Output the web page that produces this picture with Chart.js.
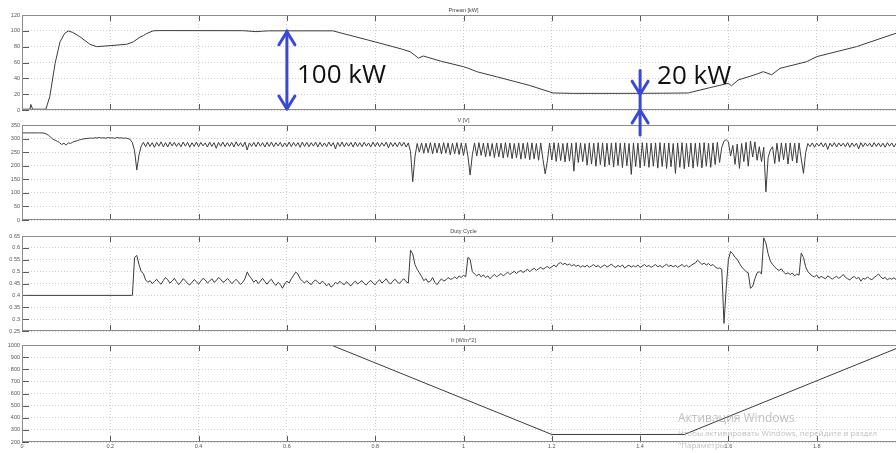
<!DOCTYPE html>
<html><head><meta charset="utf-8">
<script src="https://cdn.jsdelivr.net/npm/chart.js@4.4.1/dist/chart.umd.min.js"></script>
<style>
html,body{margin:0;padding:0;background:#fff;overflow:hidden;width:896px;height:453px;position:relative}
canvas{position:absolute;left:0;top:0}
#c1{z-index:5}
.wm{position:absolute;left:678px;color:rgba(150,150,150,0.6);font-family:'Open Sans',sans-serif;white-space:nowrap;z-index:9;line-height:1}
</style></head><body>
<canvas id="c4" width="912" height="453"></canvas>
<canvas id="c3" width="912" height="453"></canvas>
<canvas id="c2" width="912" height="453"></canvas>
<canvas id="c1" width="912" height="453"></canvas>
<div class="wm" style="top:412px;font-size:12px">Активация Windows</div>
<div class="wm" style="top:429px;font-size:8px">Чтобы активировать Windows, перейдите в раздел</div>
<div class="wm" style="top:441px;font-size:8px">"Параметры".</div>
<script>
// ---- Data ----
const xTicks = [0,0.2,0.4,0.6,0.8,1,1.2,1.4,1.6,1.8,2];
const titles = ['Pmean [kW]','V [V]','Duty Cycle','Ir [W/m^2]'];

const pTime = [0,0.018,0.02,0.024,0.054,0.063,0.075,0.086,0.097,0.105,0.115,0.131,0.154,0.169,0.2,0.237,0.252,0.267,0.275,0.282,0.297,0.31,0.5,0.53,0.545,0.56,0.704,0.8,0.86,0.879,0.89,0.898,0.909,0.95,1.0,1.012,1.03,1.075,1.15,1.203,1.25,1.35,1.45,1.509,1.56,1.6,1.607,1.622,1.66,1.679,1.698,1.717,1.777,1.8,1.89,1.98,2.0];
const pValue = [1,1,7,1,1,17,59,86,97,99.8,98,92.6,83,80,81.3,83,86,92,94,96.5,100,100.3,100.2,99,99.5,100,100,86,77,73.6,69,65.5,68.2,61.5,54.7,52.5,48.4,42,31,21.5,21,21,21.2,21.5,28.5,33.7,30.5,37.9,44.5,48.4,44.5,52.6,61,67.4,80,97,100];

const vDt = 0.005;
const vStartup = [321,321,321,321,321,321,321,321,321,321,
 320,317,312,305,298,294,290,285,278,283,276,284,282,287,290,292,295,297,299,300,301,302,301,303,302,304,302,303,301,304,302,303,301,304,302,303,301,302,300,297,285,255,184,240];
const vBand1 = [272,286,270,287,271,285,268,286,272,288,
 270,285,269,287,273,286,271,284,270,287,
 272,286,268,285,271,287,270,286,273,284,
 269,287,271,285,264,286,272,287,270,285,
 271,286,269,288,272,285,270,287,258,284,
 271,286,270,287,272,285,269,286,271,287,
 270,285,273,286,269,284,271,287,270,286,
 272,285,268,287,271,286,270,285,272,287,
 269,286,271,284,270,287,272,285,262,286,
 271,287,270,285,272,286,269,287,271,285,
 270,286,272,284,269,287,271,286,270,285,
 272,287,266,286,271,285,270,287,272,286,
 269,284];
const vBand2 = [252,141,232,282,250,284,246,283,248,285,
 244,284,247,283,243,285,246,284,240,283,
 244,285,241,284,238,283,235,166,240,284,
 236,285,238,283,232,284,235,282,230,284,
 233,283,228,285,231,284,226,282,229,284,
 224,283,227,285,222,284,225,282,220,284,
 223,170,218,283,221,285,216,284,219,282,
 214,284,217,283,180,285,212,284,215,282,
 202,284,206,283,198,285,204,284,196,283,
 203,284,195,285,201,283,193,284,200,282,
 168,284,197,283,192,285,199,284,194,283,
 198,284,191,285,197,283,190,284,196,282,
 172,284,194,285,189,283,196,284,191,283,
 197,284,192,285,198,283,194,284,204,286,
 212];
const vDisturb = [268,290,296,288,236,275,205,280,190,282,
 215,286,198,291,232,288,220,270,215,268,
 104,230,258,270,208,283,215,284,222,283,
 206,284,218,283,210,284,225,172,248,282];
const vBand3 = [270,284,268,283,272,285,269,284,260,283,271,285,269,284,272,283,270,285,268,284,271,283,262,285,270,284,272,283,269,285,271,284,270,283,268,285,272,284,269,283,271,285,270,284];

const dDt = 0.005;
const dFlatTime = [0,0.248];
const dFlat = [0.4,0.4];
const dSeg1 = [0.40,0.56,0.568,0.53,0.50,0.492,0.465,0.455,0.462,0.45,
 0.458,0.468,0.455,0.447,0.462,0.475,0.466,0.452,0.46,0.472,
 0.458,0.445,0.456,0.47,0.462,0.45,0.444,0.455,0.466,0.458,
 0.447,0.46,0.472,0.465,0.452,0.46,0.47,0.455,0.462,0.475,
 0.468,0.455,0.46,0.471,0.462,0.45,0.458,0.468,0.457,0.446,
 0.455,0.47,0.498,0.482,0.47,0.455,0.465,0.45,0.46,0.472,
 0.458,0.447,0.46,0.468,0.452,0.442,0.455,0.446,0.43,0.448,
 0.46,0.452,0.47,0.484,0.498,0.49,0.47,0.46,0.452,0.462,
 0.452,0.445,0.458,0.465,0.455,0.448,0.46,0.452,0.44,0.45,
 0.435,0.442,0.455,0.448,0.46,0.45,0.445,0.458,0.447,0.44,
 0.452,0.46,0.448,0.455,0.462,0.45,0.444,0.456,0.463,0.452,
 0.445,0.458,0.466,0.452,0.46,0.47,0.455,0.448,0.46,0.468,
 0.456,0.45,0.462,0.47,0.458,0.452];
const dSeg2 = [0.59,0.575,0.53,0.51,0.495,0.48,0.462,0.47,0.455,0.46,
 0.475,0.455,0.445,0.458,0.47,0.46,0.465,0.475,0.468,0.47,
 0.478,0.47,0.482,0.475,0.485,0.478,0.56,0.552,0.5,0.49,
 0.482,0.49,0.478,0.486,0.475,0.482,0.47,0.48,0.488,0.478,
 0.485,0.492,0.482,0.49,0.498,0.488,0.495,0.502,0.492,0.5,
 0.505,0.496,0.503,0.51,0.5,0.508,0.514,0.505,0.512,0.518,
 0.51,0.516,0.522,0.514,0.52,0.528,0.52,0.534,0.538,0.53,
 0.535,0.528,0.532,0.524,0.53,0.522,0.528,0.518,0.525,0.52,
 0.527,0.518,0.524,0.53,0.52,0.526,0.516,0.523,0.528,0.519,
 0.525,0.532,0.522,0.518,0.526,0.52,0.528,0.515,0.522,0.527,
 0.519,0.525,0.52,0.528,0.517,0.524,0.53,0.521,0.526,0.518,
 0.524,0.53,0.52,0.526,0.518,0.525,0.531,0.522,0.527,0.52,
 0.526,0.518,0.524,0.53,0.521,0.527,0.519,0.525,0.532,0.536,
 0.548,0.54,0.53,0.536,0.528,0.534,0.525,0.53,0.52,0.514,
 0.515,0.51];
const dSeg3 = [0.282,0.43,0.55,0.585,0.575,0.56,0.552,0.535,0.52,0.51,
 0.5,0.495,0.43,0.438,0.47,0.495,0.5,0.49,0.642,0.62,
 0.575,0.545,0.53,0.52,0.51,0.505,0.512,0.498,0.49,0.495,
 0.488,0.494,0.482,0.49,0.485,0.578,0.56,0.52,0.5,0.49,
 0.482,0.478,0.486,0.472,0.48,0.475,0.47,0.482,0.476,0.468,
 0.475,0.48,0.472,0.478,0.488,0.476,0.47,0.465,0.474,0.48,
 0.47,0.476,0.46,0.472,0.468,0.478,0.47,0.466,0.475,0.482,
 0.49,0.478,0.47,0.476,0.465,0.472,0.468,0.474,0.466,0.47,
 0.476,0.47,0.474];

const iTime = [0,0.7,1.2,1.5,2.0];
const iValue = [1000,1000,262,262,1000];

// ---- helpers ----
function pairs(ts, vs){ return ts.map((t,i)=>({x:t,y:vs[i]})); }
function sampled(t0, dt, vs){ return vs.map((v,i)=>({x:+(t0+i*dt).toFixed(4),y:v})); }

const pPts = pairs(pTime,pValue);
const vPts = [].concat(sampled(0,vDt,vStartup), sampled(0.27,vDt,vBand1), sampled(0.88,vDt,vBand2), sampled(1.585,vDt,vDisturb), sampled(1.785,vDt,vBand3));
const dPts = [].concat(pairs(dFlatTime,dFlat), sampled(0.25,dDt,dSeg1), sampled(0.88,dDt,dSeg2), sampled(1.59,dDt,dSeg3));
const iPts = pairs(iTime,iValue);

const tickFont = {family:'Liberation Sans', size:5.5};
const fmt = v => String(+(+v).toFixed(3));

const frame = {
  id:'frame',
  afterDraw(chart, args, opts){
    const {ctx, chartArea:a, scales:{x,y}} = chart;
    ctx.save();
    ctx.strokeStyle='#5a5a5a'; ctx.lineWidth=1;
    ctx.beginPath();
    x.ticks.forEach(t=>{const px=Math.round(x.getPixelForValue(t.value))+0.5;
      ctx.moveTo(px,a.top); ctx.lineTo(px,a.top+6); ctx.moveTo(px,a.bottom); ctx.lineTo(px,a.bottom-6);});
    y.ticks.forEach(t=>{const py=Math.round(y.getPixelForValue(t.value))+0.5;
      ctx.moveTo(a.left,py); ctx.lineTo(a.left+7,py); ctx.moveTo(a.right,py); ctx.lineTo(a.right-7,py);});
    ctx.stroke();
    ctx.strokeStyle='#8c8c8c';
    ctx.strokeRect(Math.round(a.left)+0.5,Math.round(a.top)+0.5,Math.round(a.width)-1,Math.round(a.height)-1);
    ctx.fillStyle='#444'; ctx.font='5.5px "Liberation Sans"'; ctx.textAlign='center'; ctx.textBaseline='bottom';
    ctx.fillText(opts.title,(a.left+a.right)/2,a.top-2);
    ctx.restore();
  }
};

const notes = {
  id:'notes',
  afterDraw(chart){
    const {ctx, scales:{x,y}} = chart;
    ctx.save();
    ctx.strokeStyle='#3a48d4'; ctx.lineWidth=3; ctx.lineCap='round'; ctx.lineJoin='round';
    const head=(px,tip,dir)=>{ctx.beginPath(); ctx.moveTo(px-8,tip+dir*13); ctx.lineTo(px,tip); ctx.lineTo(px+8,tip+dir*13); ctx.stroke();};
    const x1=x.getPixelForValue(0.6), t1=y.getPixelForValue(100), b1=y.getPixelForValue(0);
    ctx.beginPath(); ctx.moveTo(x1,t1); ctx.lineTo(x1,b1-1); ctx.stroke();
    head(x1,t1+1,1); head(x1,b1-1,-1);
    const x2=x.getPixelForValue(1.4), s2=y.getPixelForValue(50), d2=y.getPixelForValue(20), u2=y.getPixelForValue(0);
    ctx.beginPath(); ctx.moveTo(x2,s2); ctx.lineTo(x2,u2+25); ctx.stroke();
    head(x2,d2,-1); head(x2,u2,1);
    ctx.fillStyle='#111'; ctx.font='26px "Open Sans"'; ctx.textAlign='left'; ctx.textBaseline='alphabetic';
    ctx.fillText('100 kW',x1+10,83);
    ctx.fillText('20 kW',x2+17,84);
    ctx.restore();
  }
};

function makeChart(id, cfg, extra){
  return new Chart(document.getElementById(id),{
    type:'line',
    data:{datasets:[{data:cfg.points,borderColor:'#3c3c3c',borderWidth:1,pointRadius:0,tension:0,fill:false}]},
    options:{
      responsive:false, animation:false, devicePixelRatio:1,
      layout:{padding:{top:cfg.top,bottom:453-cfg.bottom-cfg.xh,left:0,right:7}},
      plugins:{legend:{display:false},tooltip:{enabled:false},frame:{title:cfg.title}},
      scales:{
        x:{type:'linear',min:0,max:2,afterFit:s=>{s.height=cfg.xh;},
           afterBuildTicks:s=>{s.ticks=xTicks.map(v=>({value:v}));},
           ticks:{display:cfg.xh>0,autoSkip:false,maxRotation:0,padding:1,font:tickFont,color:'#555',callback:fmt},
           grid:{color:'#cdcdcd',drawTicks:false,lineWidth:1},border:{display:false,dash:[1,2]}},
        y:{type:'linear',min:cfg.min,max:cfg.max,afterFit:s=>{s.width=22;},
           ticks:{stepSize:cfg.step,autoSkip:false,padding:2,font:tickFont,color:'#555',callback:fmt},
           grid:{color:'#cdcdcd',drawTicks:false,lineWidth:1},border:{display:false,dash:[1,2]}}
      }
    },
    plugins: extra ? [frame, extra] : [frame]
  });
}

makeChart('c1',{points:pPts,top:15,bottom:110,xh:0,min:0,max:120,step:20,title:titles[0]}, notes);
makeChart('c2',{points:vPts,top:125,bottom:220,xh:0,min:0,max:350,step:50,title:titles[1]});
makeChart('c3',{points:dPts,top:236,bottom:331,xh:0,min:0.25,max:0.65,step:0.05,title:titles[2]});
makeChart('c4',{points:iPts,top:345,bottom:442,xh:11,min:200,max:1000,step:100,title:titles[3]});
</script>
</body></html>
